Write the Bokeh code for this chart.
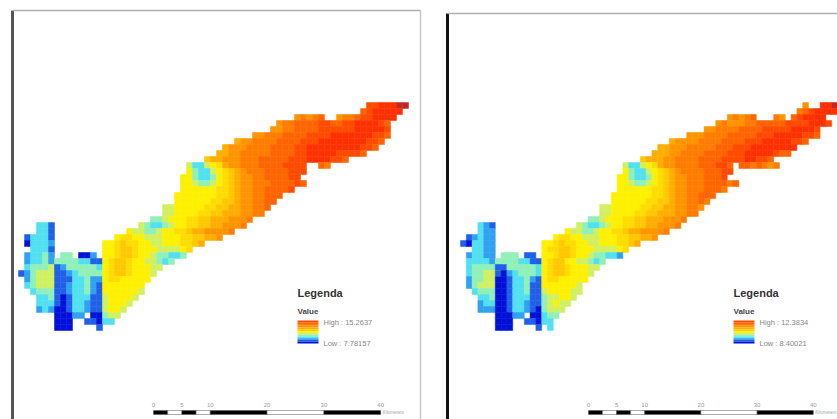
from bokeh.plotting import figure
from bokeh.layouts import row
from bokeh.models import Range1d, ColumnDataSource
from bokeh.core.properties import value
from bokeh.embed import file_html
from bokeh.resources import INLINE

# Raster class per cell. Each row: "column:classes column:classes"
LEFT_ROWS = [
    "58:ffaaabb", "57:9faaaaa", "46:8c8c9 53:8cc9ffaaaa", "43:8cc9999ff99ffaaaaf9",
    "42:88cc9999ffffffaaaaaf", "39:88ccc9999ffffaaaaaaaff9", "36:d88cccc9999fffaaaaaaaaff9",
    "34:d888cccc9999ffaaaaaaaaaff9", "33:dd88ccccc9999ffaaaaaffff9", "31:7dd888ccc99999fffaaaaff9",
    "28:53356ed88ccc9999ffff 50:9c", "28:643356e7d8ccc9999fff", "27:6643346e7d88cc9999ff",
    "27:6654456e7d88ccc9999f9", "27:666666ee7d88cc9999f", "26:6666666ee7d88cc999",
    "26:666666ee77d88cc99", "24:5566666ee77dd88cc9", "24:556666ee77ddd88cc",
    "22:445666ee77ddd888c", "3:331 20:54334566ee77dd888c", "3:331 18:65544566ee7dd8888c",
    "1:13331 16:6ee66555666ee77dd8", "1:03332 14:66e7ee6655666ee7d", "2:3331 14:66e77e66655556e",
    "1:23342 7:44 10:00 12:2 14:66e77e66544334", "1:23342 6:44443311 14:6e77e6655434 3",
    "1:344453 6:12444443 14:6e77e66655", "0:1 1:24555 6:11234444 14:6e77e6665",
    "1:24555 6:111334 12:22 14:6ee66666", "1:34555 6:112334 12:21 14:6666666",
    "2:3444 6:112334 12:21 14:6666665", "3:334 6:101333 12:11 14:566665",
    "3:333 6:10133 11:2 12:11 14:56665", "3:2 4:32 6:00133 11:2 12:11 14:5665",
    "6:00022 12:00 14:455", "6:000 11:110 14:33", "6:000 13:1",
]
RIGHT_ROWS = [
    "59:8 62:aab", "58:c9faaaa", "46:8c8c9 54:c8 57:9faaaa", "44:8c888cc99999ffffaaaf",
    "42:88cccc9999fffffaaaaf", "39:888cccc99999fffaaaaaff9", "36:d8888cccc9999fffaaaaaff9",
    "34:dd888ccccc999fffaaaaaaaa", "33:ddd88cccc9999fffaaaaaf99", "31:7ddd88cccc9999ffffaaff9",
    "28:53356ed88cccc999ff9 48:99c9c8c", "28:643356e7d8cccc999ff", "27:6643346e7d88ccc999f",
    "27:6654456e7d88ccc9999c9", "27:666666ee7d88ccc999c", "26:6666666ee7d88cc999",
    "26:666666ee77d88cc9c", "24:5566666ee77dd88cc8", "24:556666ee77ddd88cc",
    "22:445666ee77ddd888c", "3:321 20:54334566ee77dd888c", "3:322 18:65544566ee7dd8888c",
    "1:12322 16:6ee66555666ee77dd8", "0:1 1:03322 14:66e7ee6655666ee7d", "2:3322 14:6ee77e66655556e",
    "1:23322 7:44 9:4 11:1 12:1 14:66e77e66544332", "1:33332 6:44443311 14:6e776655434 3",
    "1:344443 6:11444443 14:6e77e66655", "1:344555 6:10234443 14:6e77e6665",
    "1:244555 6:001334 12:21 14:6ee66666", "1:24555 6:001334 12:11 14:6666665",
    "2:3444 6:001334 12:11 14:5666655", "3:334 6:001333 12:11 14:455665",
    "3:233 6:00133 11:2 12:11 14:45655", "3:2 4:22 6:00133 11:2 12:10 14:4555",
    "6:00022 12:00 14:344", "6:000 11:110 14:33", "6:000 13:1 15:3",
]
CLASS_COLORS = {
    "0": "#0010d8", "1": "#2060e8", "2": "#30a0f0", "3": "#50e0f0", "4": "#90f0b8", "5": "#d0f060",
    "6": "#fff000", "e": "#ffdc00", "7": "#ffc800", "d": "#ffae00", "8": "#ff9400", "c": "#ff7c00",
    "9": "#ff6400", "f": "#ff4a00", "a": "#ff3000", "b": "#c02828",
}
RAMP_CLASSES = ["f", "9", "c", "8", "d", "7", "6", "5", "4", "3", "2", "1", "0"]
SCALE_KM = [0, 5, 10, 20, 30, 40]
LEFT_HIGH, LEFT_LOW = "High : 15.2637", "Low : 7.78157"
RIGHT_HIGH, RIGHT_LOW = "High : 12.3834", "Low : 8.40021"


def parse(rows):
    cs, rs, cols = [], [], []
    for r, line in enumerate(rows):
        for seg in line.split():
            if ":" not in seg:
                continue
            start, codes = seg.split(":")
            for i, k in enumerate(codes):
                cs.append(int(start) + i)
                rs.append(r)
                cols.append(CLASS_COLORS[k])
    return cs, rs, cols


FONT = value("Liberation Sans")
W, H = 837, 419


def panel(x0, w, rows, ox, cell, frame, leg_x, hi, lo, bar_x, km_px):
    p = figure(width=w, height=H, x_range=Range1d(x0, x0 + w), y_range=Range1d(H, 0),
               output_backend="svg", toolbar_location=None, min_border=0,
               background_fill_color="#ffffff", border_fill_color="#ffffff", outline_line_color=None)
    p.axis.visible = False
    p.grid.visible = False
    fx, fy, fcol, fx2 = frame
    p.segment([fx], [fy], [fx], [H], line_color=fcol, line_width=3)
    p.segment([fx], [fy], [fx2], [fy], line_color="#b0b0b0", line_width=1.5)
    if fx2 < x0 + w - 5:
        p.segment([fx2], [fy], [fx2], [H], line_color="#c8c8c8", line_width=1.5)
    cs, rs, cols = parse(rows)
    src = ColumnDataSource(dict(
        left=[ox + cell * c for c in cs], right=[ox + cell * (c + 1) for c in cs],
        top=[102 + 6 * r for r in rs], bottom=[108 + 6 * r for r in rs], color=cols))
    p.quad(left="left", right="right", top="top", bottom="bottom", source=src,
           fill_color="color", line_color="color", line_width=0.5)
    p.text([leg_x], [292], text=["Legenda"], text_font=FONT, text_font_style="bold",
           text_font_size="11px", text_color="#333333", text_baseline="middle")
    p.text([leg_x], [311], text=["Value"], text_font=FONT, text_font_style="bold",
           text_font_size="8px", text_color="#444444", text_baseline="middle")
    n = len(RAMP_CLASSES)
    h = 23 / n
    p.quad(left=[leg_x] * n, right=[leg_x + 21] * n,
           top=[320 + h * i for i in range(n)], bottom=[320 + h * (i + 1) for i in range(n)],
           fill_color=[CLASS_COLORS[k] for k in RAMP_CLASSES], line_color=None)
    p.text([leg_x + 26], [322], text=[hi], text_font=FONT, text_font_size="7.5px",
           text_color="#888888", text_baseline="middle")
    p.text([leg_x + 26], [343], text=[lo], text_font=FONT, text_font_size="7.5px",
           text_color="#888888", text_baseline="middle")
    subs = [0, 2.5, 5, 7.5, 10, 20, 30, 40]
    for i in range(len(subs) - 1):
        p.quad(left=[bar_x + subs[i] * km_px], right=[bar_x + subs[i + 1] * km_px], top=[410], bottom=[414],
               fill_color="#000000" if i % 2 == 0 else "#ffffff", line_color="#555555", line_width=0.5)
    p.text([bar_x + k * km_px for k in SCALE_KM], [404] * len(SCALE_KM), text=[str(k) for k in SCALE_KM],
           text_font=FONT, text_font_size="6px", text_color="#999999", text_align="center", text_baseline="middle")
    p.text([bar_x + 40 * km_px + 2], [412], text=["Kilometers"], text_font=FONT, text_font_size="4.5px",
           text_color="#aaaaaa", text_baseline="middle")
    return p


left = panel(0, 430, LEFT_ROWS, 18, 6.0, (12, 10, "#555555", 420), 297, LEFT_HIGH, LEFT_LOW, 153, 5.68)
right = panel(430, 407, RIGHT_ROWS, 460, 5.8, (447, 13, "#111111", 850), 733, RIGHT_HIGH, RIGHT_LOW, 588, 5.62)
layout = row(left, right, spacing=0)
open("out.html", "w").write(file_html(layout, INLINE))
